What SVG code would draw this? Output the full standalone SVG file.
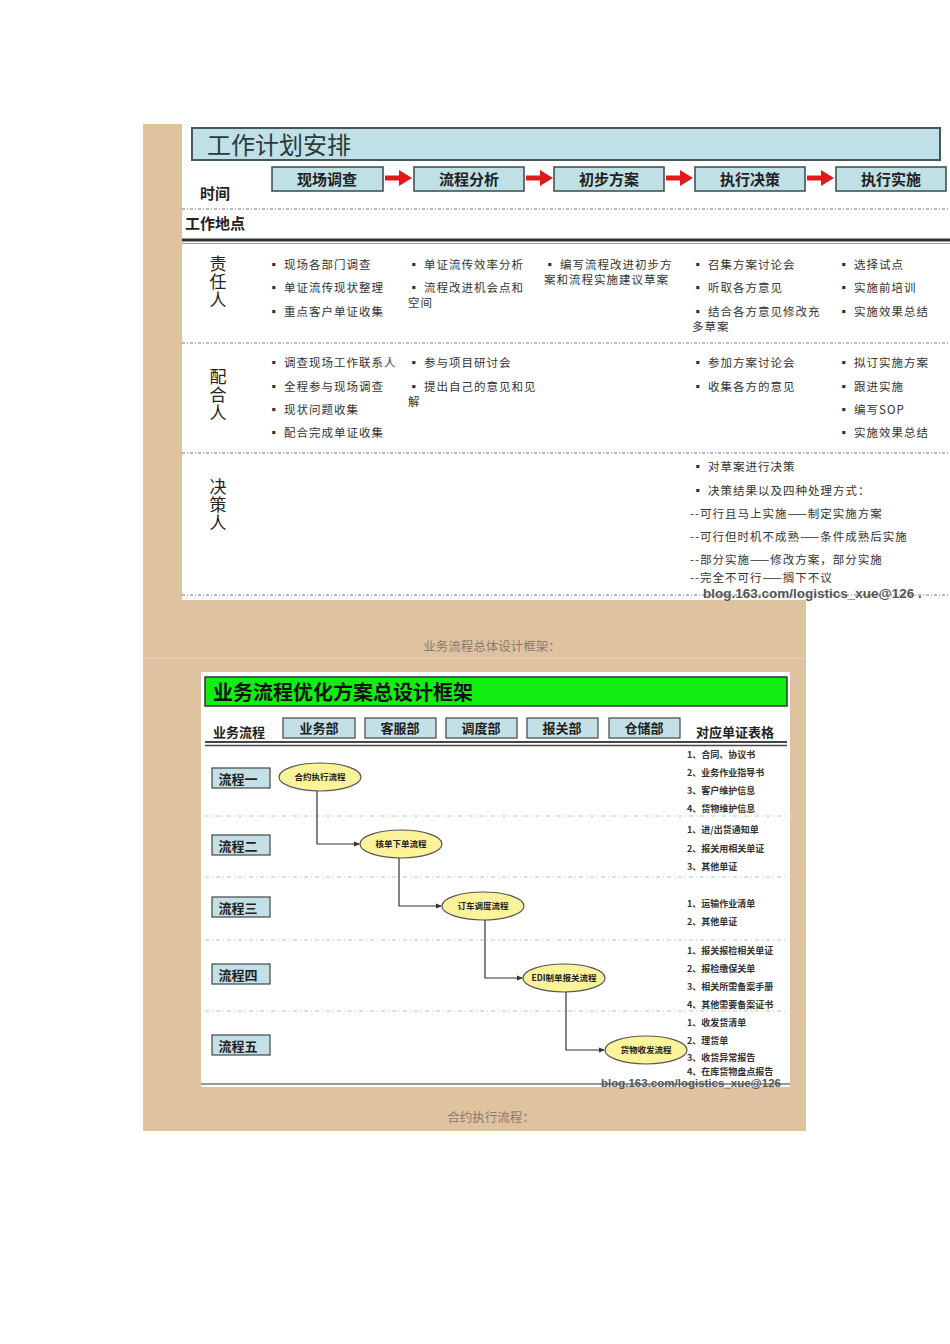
<svg xmlns="http://www.w3.org/2000/svg" width="950" height="1344" viewBox="0 0 950 1344">
<style>
.cn{font-family:"Noto Sans CJK SC","Noto Sans",sans-serif;}
.t{font-family:"Noto Sans CJK SC",sans-serif;font-size:11.5px;fill:#333;letter-spacing:1px;}
.s{font-family:"Noto Sans CJK SC",sans-serif;font-size:9px;fill:#333;font-weight:bold;}
.lbl{font-family:"Noto Sans CJK SC",sans-serif;font-size:15px;font-weight:bold;fill:#222;}
.vert{font-family:"Noto Sans CJK SC",sans-serif;font-size:17px;fill:#222;writing-mode:vertical-rl;letter-spacing:1px;}
.step{fill:#bfe0e5;stroke:#3a4848;stroke-width:1.5;}
.steptx{font-family:"Noto Sans CJK SC",sans-serif;font-size:15px;font-weight:bold;fill:#222;text-anchor:middle;}
.dot{stroke:#777;stroke-width:1;stroke-dasharray:3 2 1 2;}
.gdash{stroke:#9fd6a6;stroke-width:1;stroke-dasharray:4 3 1 3;}
.dept{fill:#c3e0e6;stroke:#444;stroke-width:1.2;}
.depttx{font-family:"Noto Sans CJK SC",sans-serif;font-size:13px;font-weight:bold;fill:#222;text-anchor:middle;}
.ell{fill:#fbf39a;stroke:#555;stroke-width:1.2;}
.elltx{font-family:"Noto Sans CJK SC",sans-serif;font-size:8.5px;font-weight:bold;fill:#222;text-anchor:middle;}
.conn{fill:none;stroke:#333;stroke-width:1.2;}
.cap{font-family:"Noto Sans CJK SC",serif;font-size:12.5px;fill:#8a7a6a;text-anchor:middle;}
.wm{font-family:"Liberation Sans",Arial,sans-serif;font-weight:bold;fill:#555;}
</style>
<defs>
<marker id="ah" markerWidth="6" markerHeight="6" refX="5" refY="3" orient="auto" markerUnits="userSpaceOnUse">
<path d="M0,0.5 L6,3 L0,5.5 Z" fill="#333"/>
</marker>
<g id="redarrow">
<rect x="0" y="-2.5" width="16" height="5" fill="#e01a1a"/>
<path d="M14,-8 L27,0 L14,8 Z" fill="#e01a1a"/>
</g>
</defs>
<rect width="950" height="1344" fill="#ffffff"/>
<rect x="143" y="124" width="663" height="1007" fill="#dfc3a1"/>
<line x1="143" y1="658" x2="806" y2="658" stroke="#e9d3b8" stroke-width="1"/>

<g id="plan">
<rect x="182" y="124" width="768" height="476" fill="#ffffff"/>
<g id="title1">
<rect x="192" y="128" width="748" height="32" fill="#bfe0e6" stroke="#475757" stroke-width="2"/>
<text x="207" y="154" class="cn" font-size="24" fill="#2b3a3a">工作计划安排</text>
</g>
<g id="step1"><rect class="step" x="272" y="167" width="111" height="24"/><text class="steptx" x="327" y="185">现场调查</text></g>
<g id="step2"><rect class="step" x="414" y="167" width="110" height="24"/><text class="steptx" x="469" y="185">流程分析</text></g>
<g id="step3"><rect class="step" x="554" y="167" width="110" height="24"/><text class="steptx" x="609" y="185">初步方案</text></g>
<g id="step4"><rect class="step" x="695" y="167" width="110" height="24"/><text class="steptx" x="750" y="185">执行决策</text></g>
<g id="step5"><rect class="step" x="836" y="167" width="110" height="24"/><text class="steptx" x="891" y="185">执行实施</text></g>
<g id="step-arrows">
<use href="#redarrow" x="385" y="178"/>
<use href="#redarrow" x="526" y="178"/>
<use href="#redarrow" x="666" y="178"/>
<use href="#redarrow" x="807" y="178"/>
</g>
<text class="lbl" x="200" y="199">时间</text>
<line class="dot" x1="182" y1="209" x2="950" y2="209"/>
<text class="lbl" x="185" y="229" font-size="16">工作地点</text>
<line x1="182" y1="240" x2="950" y2="240" stroke="#333" stroke-width="3"/>
<line x1="182" y1="243.5" x2="950" y2="243.5" stroke="#999" stroke-width="1"/>

<g id="row-responsible">
<text class="vert" x="218" y="255" font-size="18" letter-spacing="2">责任人</text>
<text class="t" x="268" y="269">▪ 现场各部门调查</text>
<text class="t" x="268" y="292">▪ 单证流传现状整理</text>
<text class="t" x="268" y="316">▪ 重点客户单证收集</text>
<text class="t" x="408" y="269">▪ 单证流传效率分析</text>
<text class="t" x="408" y="292">▪ 流程改进机会点和</text>
<text class="t" x="408" y="307">空间</text>
<text class="t" x="544" y="269">▪ 编写流程改进初步方</text>
<text class="t" x="544" y="284">案和流程实施建议草案</text>
<text class="t" x="692" y="269">▪ 召集方案讨论会</text>
<text class="t" x="692" y="292">▪ 听取各方意见</text>
<text class="t" x="692" y="316">▪ 结合各方意见修改充</text>
<text class="t" x="692" y="331">多草案</text>
<text class="t" x="838" y="269">▪ 选择试点</text>
<text class="t" x="838" y="292">▪ 实施前培训</text>
<text class="t" x="838" y="316">▪ 实施效果总结</text>
</g>
<line class="dot" x1="182" y1="343" x2="950" y2="343"/>

<g id="row-cooperate">
<text class="vert" x="218" y="368">配合人</text>
<text class="t" x="268" y="367">▪ 调查现场工作联系人</text>
<text class="t" x="268" y="391">▪ 全程参与现场调查</text>
<text class="t" x="268" y="414">▪ 现状问题收集</text>
<text class="t" x="268" y="437">▪ 配合完成单证收集</text>
<text class="t" x="408" y="367">▪ 参与项目研讨会</text>
<text class="t" x="408" y="391">▪ 提出自己的意见和见</text>
<text class="t" x="408" y="406">解</text>
<text class="t" x="692" y="367">▪ 参加方案讨论会</text>
<text class="t" x="692" y="391">▪ 收集各方的意见</text>
<text class="t" x="838" y="367">▪ 拟订实施方案</text>
<text class="t" x="838" y="391">▪ 跟进实施</text>
<text class="t" x="838" y="414">▪ 编写SOP</text>
<text class="t" x="838" y="437">▪ 实施效果总结</text>
</g>
<line class="dot" x1="182" y1="453" x2="950" y2="453"/>

<g id="row-decision">
<text class="vert" x="218" y="478">决策人</text>
<text class="t" x="692" y="471" font-size="11" letter-spacing="0.5">▪ 对草案进行决策</text>
<text class="t" x="692" y="495" font-size="11" letter-spacing="0.5">▪ 决策结果以及四种处理方式：</text>
<text class="t" x="690" y="518" font-size="11" letter-spacing="0.2">--可行且马上实施——制定实施方案</text>
<text class="t" x="690" y="541" font-size="11" letter-spacing="0.2">--可行但时机不成熟——条件成熟后实施</text>
<text class="t" x="690" y="564" font-size="11" letter-spacing="0.2">--部分实施——修改方案，部分实施</text>
<text class="t" x="690" y="582" font-size="10.5" letter-spacing="0.2" fill="#777">--完全不可行——搁下不议</text>
</g>
<line class="dot" x1="182" y1="595" x2="950" y2="595"/>
<text class="wm" x="703" y="598" font-size="13.5">blog.163.com/logistics_xue@126 .</text>
</g>

<text class="cap" x="492" y="651">业务流程总体设计框架：</text>

<g id="framework">
<rect x="201" y="672" width="589" height="415" fill="#ffffff"/>
<g id="title2">
<rect x="205" y="677" width="582" height="29" fill="#11ee11" stroke="#333" stroke-width="1.5"/>
<text x="213" y="700" class="cn" font-size="20" font-weight="bold" fill="#111">业务流程优化方案总设计框架</text>
</g>
<text x="213" y="737" class="cn" font-size="13" font-weight="bold" fill="#222">业务流程</text>
<g id="dept1"><rect class="dept" x="283" y="718" width="72" height="20"/><text class="depttx" x="319" y="733">业务部</text></g>
<g id="dept2"><rect class="dept" x="365" y="718" width="71" height="20"/><text class="depttx" x="400" y="733">客服部</text></g>
<g id="dept3"><rect class="dept" x="446" y="718" width="71" height="20"/><text class="depttx" x="481" y="733">调度部</text></g>
<g id="dept4"><rect class="dept" x="527" y="718" width="71" height="20"/><text class="depttx" x="562" y="733">报关部</text></g>
<g id="dept5"><rect class="dept" x="609" y="718" width="71" height="20"/><text class="depttx" x="644" y="733">仓储部</text></g>
<text x="696" y="737" class="cn" font-size="13" font-weight="bold" fill="#222">对应单证表格</text>
<line x1="205" y1="742" x2="787" y2="742" stroke="#444" stroke-width="2"/>
<line x1="205" y1="745.5" x2="787" y2="745.5" stroke="#444" stroke-width="1.5"/>

<line class="gdash" x1="205" y1="816" x2="787" y2="816"/>
<line class="gdash" x1="205" y1="877" x2="787" y2="877"/>
<line class="gdash" x1="205" y1="940" x2="787" y2="940"/>
<line class="gdash" x1="205" y1="1011" x2="787" y2="1011"/>

<g id="flow1"><rect class="dept" x="212" y="768" width="58" height="20"/><text class="depttx" x="238" y="784" font-size="14">流程一</text></g>
<g id="flow2"><rect class="dept" x="212" y="835" width="58" height="20"/><text class="depttx" x="238" y="851" font-size="14">流程二</text></g>
<g id="flow3"><rect class="dept" x="212" y="897" width="58" height="20"/><text class="depttx" x="238" y="913" font-size="14">流程三</text></g>
<g id="flow4"><rect class="dept" x="212" y="964" width="58" height="20"/><text class="depttx" x="238" y="980" font-size="14">流程四</text></g>
<g id="flow5"><rect class="dept" x="212" y="1035" width="58" height="20"/><text class="depttx" x="238" y="1051" font-size="14">流程五</text></g>

<g id="proc1"><ellipse class="ell" cx="320" cy="777" rx="41" ry="14"/><text class="elltx" x="320" y="780">合约执行流程</text></g>
<g id="proc2"><ellipse class="ell" cx="401" cy="844" rx="41" ry="14"/><text class="elltx" x="401" y="847">核单下单流程</text></g>
<g id="proc3"><ellipse class="ell" cx="483" cy="906" rx="41" ry="14"/><text class="elltx" x="483" y="909">订车调度流程</text></g>
<g id="proc4"><ellipse class="ell" cx="564" cy="978" rx="41" ry="14"/><text class="elltx" x="564" y="981">EDI制单报关流程</text></g>
<g id="proc5"><ellipse class="ell" cx="646" cy="1050" rx="41" ry="14"/><text class="elltx" x="646" y="1053">货物收发流程</text></g>

<g id="connectors">
<path class="conn" d="M317,791 V844 H359" marker-end="url(#ah)"/>
<path class="conn" d="M399,858 V906 H441" marker-end="url(#ah)"/>
<path class="conn" d="M485,920 V978 H522" marker-end="url(#ah)"/>
<path class="conn" d="M566,992 V1050 H604" marker-end="url(#ah)"/>
</g>

<g id="docs">
<text class="s" x="687" y="758">1、合同、协议书</text>
<text class="s" x="687" y="776">2、业务作业指导书</text>
<text class="s" x="687" y="794">3、客户维护信息</text>
<text class="s" x="687" y="812">4、货物维护信息</text>
<text class="s" x="687" y="833">1、进/出货通知单</text>
<text class="s" x="687" y="852">2、报关用相关单证</text>
<text class="s" x="687" y="870">3、其他单证</text>
<text class="s" x="687" y="907">1、运输作业清单</text>
<text class="s" x="687" y="925">2、其他单证</text>
<text class="s" x="687" y="954">1、报关报检相关单证</text>
<text class="s" x="687" y="972">2、报检缴保关单</text>
<text class="s" x="687" y="990">3、相关所需备案手册</text>
<text class="s" x="687" y="1008">4、其他需要备案证书</text>
<text class="s" x="687" y="1026">1、收发货清单</text>
<text class="s" x="687" y="1044">2、理货单</text>
<text class="s" x="687" y="1061">3、收货异常报告</text>
<text class="s" x="687" y="1075" fill="#888">4、在库货物盘点报告</text>
</g>
<line x1="201" y1="1084" x2="790" y2="1084" stroke="#777" stroke-width="1.5"/>
<text class="wm" x="601" y="1087" font-size="11.5">blog.163.com/logistics_xue@126</text>
</g>

<text class="cap" x="491" y="1122">合约执行流程：</text>
</svg>
